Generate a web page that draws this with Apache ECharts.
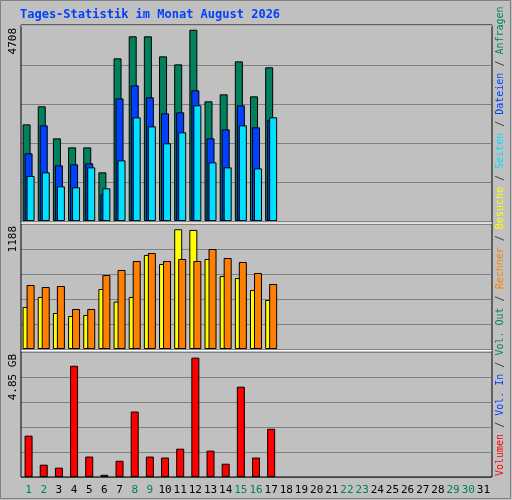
<!DOCTYPE html>
<html><head><meta charset="utf-8">
<script src="https://cdn.jsdelivr.net/npm/echarts@6/dist/echarts.min.js"></script>
<style>html,body{margin:0;padding:0;background:#c0c0c0}#c{width:512px;height:500px}</style>
</head><body><div id="c"></div>
<script>
const days = Array.from({length:31},(_,i)=>String(i+1));
const weekend = ['1','2','8','9','15','16','22','23','29','30'];
const anfragen = [2379,2823,2035,1813,1813,1198,4004,4546,4546,4053,3856,4708,2946,3118,3930,3069,3783];
const dateien  = [1666,2355,1370,1395,1419,656,3019,3339,3044,2650,2675,3216,2035,2256,2847,2306,2486];
const seiten   = [1108,1198,853,829,1321,804,1493,2552,2330,1912,2183,2847,1444,1321,2355,1296,2552];
const besuche  = [417,516,357,327,337,595,470,516,933,843,1188,1181,893,724,704,585,486];
const rechner  = [635,615,625,397,397,734,784,873,952,873,893,873,992,903,863,754,645];
const volumen  = [1.68,0.50,0.38,4.52,0.83,0.09,0.66,2.66,0.83,0.79,1.15,4.85,1.07,0.54,3.67,0.79,1.96];
const labels = {top:'4708', mid:'1188', bot:'4.85 GB'};

const chart = echarts.init(document.getElementById('c'));
const font = 'DejaVu Sans Mono';
const grids = [{left:21,width:470,top:26,height:195},{left:21,width:470,top:224,height:125},{left:21,width:470,top:352,height:125}];
function yAx(i,max){return {gridIndex:i,type:'value',min:0,max:max,interval:max/5,axisLabel:{show:false},axisLine:{show:false},axisTick:{show:false},splitLine:{lineStyle:{color:'#808080',width:1}}};}
function xAx(i,show){return {gridIndex:i,type:'category',data:days,axisLine:{show:false},axisTick:{show:false},
  axisLabel:{show:show,interval:0,margin:8,fontFamily:font,fontSize:11,formatter:v=>weekend.includes(v)?'{w|'+v+'}':'{n|'+v+'}',
  rich:{w:{color:'#00805c',fontFamily:font,fontSize:11},n:{color:'#000',fontFamily:font,fontSize:11}}}};}
const bs = {borderColor:'#000',borderWidth:1};
function bar(name,data,xi,color,w,gap,z){return {name,type:'bar',xAxisIndex:xi,yAxisIndex:xi,data,barWidth:w,barGap:gap,z,itemStyle:Object.assign({color},bs),animation:false};}
const rot = Math.PI/2;
chart.setOption({
  backgroundColor:'#c0c0c0',
  animation:false,
  grid:grids,
  xAxis:[xAx(0,false),xAx(1,false),xAx(2,true)],
  yAxis:[yAx(0,4800),yAx(1,1240),yAx(2,5.08)],
  series:[
    bar('Anfragen',anfragen,0,'#00805c',8,'-75%',2),
    bar('Dateien',dateien,0,'#0040ff',8,'-75%',3),
    bar('Seiten',seiten,0,'#00e0ff',8,'-75%',4),
    bar('Besuche',besuche,1,'#ffff00',8,'-50%',2),
    bar('Rechner',rechner,1,'#ff8000',8,'-50%',3),
    bar('Volumen',volumen,2,'#ff0000',8,'0%',2)
  ],
  graphic:[
    {type:'rect',shape:{x:0.5,y:0.5,width:510,height:498},style:{fill:null,stroke:'#808080',lineWidth:1},z:-1},
    {type:'polyline',shape:{points:[[21,477],[21,25],[492,25],[492,477],[21,477]]},style:{fill:null,stroke:'#000',lineWidth:1},z:10},
    {type:'line',shape:{x1:21,y1:223,x2:492,y2:223},style:{stroke:'#fff',lineWidth:1},z:10},
    {type:'line',shape:{x1:21,y1:350.5,x2:492,y2:350.5},style:{stroke:'#fff',lineWidth:1},z:10},
    {type:'line',shape:{x1:21,y1:26,x2:492,y2:26},style:{stroke:'#fff',lineWidth:1},z:10},
    {type:'text',x:20,y:9,style:{text:'Tages-Statistik im Monat August 2026',font:'bold 12px "DejaVu Sans Mono"',fill:'#0040ff'}},
    {type:'text',x:8,y:28,rotation:rot,style:{text:labels.top,font:'11px "DejaVu Sans Mono"',fill:'#000',align:'right',verticalAlign:'top'}},
    {type:'text',x:8,y:226,rotation:rot,style:{text:labels.mid,font:'11px "DejaVu Sans Mono"',fill:'#000',align:'right',verticalAlign:'top'}},
    {type:'text',x:8,y:354,rotation:rot,style:{text:labels.bot,font:'11px "DejaVu Sans Mono"',fill:'#000',align:'right',verticalAlign:'top'}},
    {type:'text',x:495,y:476,rotation:rot,style:{
      text:'{r|Volumen}{s| / }{b|Vol. In}{s| / }{g|Vol. Out}{s| / }{o|Rechner}{s| / }{y|Besuche}{s| / }{c|Seiten}{s| / }{b|Dateien}{s| / }{g|Anfragen}',
      font:'10px "DejaVu Sans Mono"',align:'left',verticalAlign:'top',
      rich:{r:{fill:'#ff0000',font:'10px "DejaVu Sans Mono"'},b:{fill:'#0040ff',font:'10px "DejaVu Sans Mono"'},g:{fill:'#00805c',font:'10px "DejaVu Sans Mono"'},
        o:{fill:'#ff8000',font:'10px "DejaVu Sans Mono"'},y:{fill:'#ffff00',font:'10px "DejaVu Sans Mono"'},c:{fill:'#00e0ff',font:'10px "DejaVu Sans Mono"'},s:{fill:'#404040',font:'10px "DejaVu Sans Mono"'}}}}
  ]
});
</script></body></html>
